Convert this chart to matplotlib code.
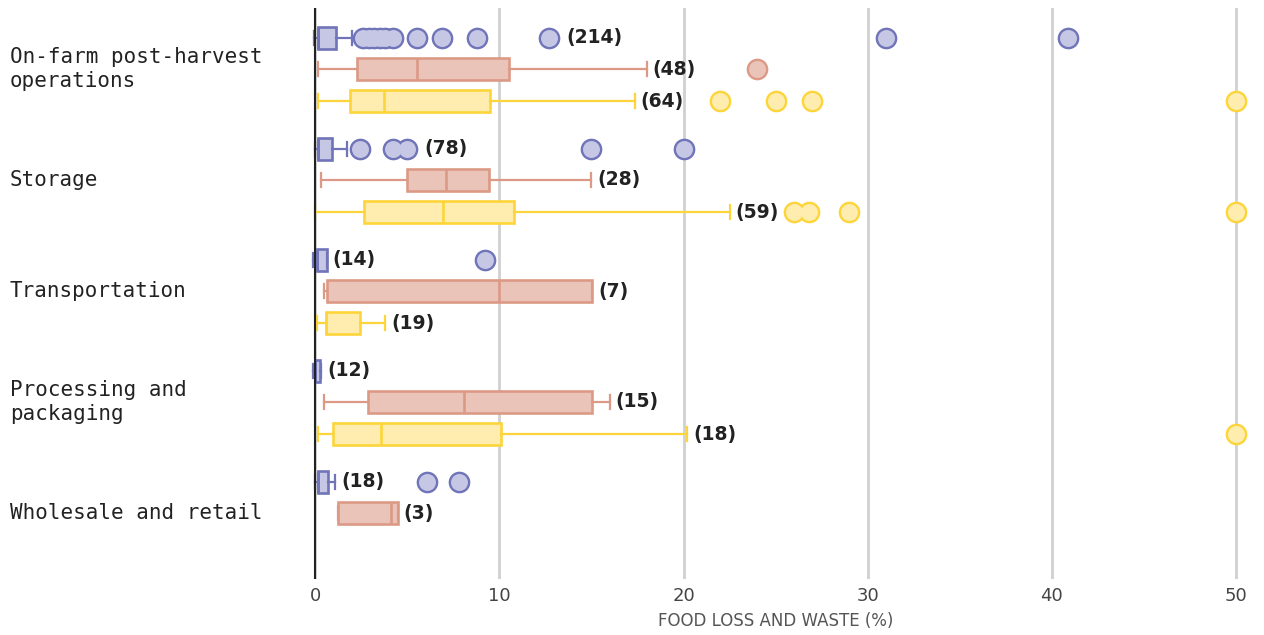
import matplotlib
matplotlib.use("Agg")
import matplotlib.pyplot as plt
from matplotlib.transforms import blended_transform_factory

# ---------------- data ----------------
categories = ["On-farm post-harvest\noperations", "Storage", "Transportation",
              "Processing and\npackaging", "Wholesale and retail"]
x_ticks = [0, 10, 20, 30, 40, 50]
x_label = "FOOD LOSS AND WASTE (%)"

# series 1 (purple)
s1_whislo = [-0.07, 0.0, -0.1, -0.1, 0.0]
s1_q1 = [0.16, 0.16, 0.1, 0.0, 0.16]
s1_med = [0.16, 0.16, 0.1, 0.0, 0.16]
s1_q3 = [1.12, 0.92, 0.62, 0.25, 0.7]
s1_whishi = [1.98, 1.7, 0.62, 0.32, 1.07]
s1_out = [[2.6, 2.9, 3.2, 3.5, 3.8, 4.2, 5.5, 6.9, 8.77, 12.7, 31.0, 40.9],
          [2.43, 4.24, 5.0, 15.0, 20.0],
          [9.22],
          [],
          [6.05, 7.83]]
s1_n = [214, 78, 14, 12, 18]
s1_label_after = [10, 3, 0, 0, 0]   # number of outliers preceding the count label

# series 2 (salmon)
s2_whislo = [0.15, 0.29, 0.49, 0.47, 1.25]
s2_q1 = [2.28, 4.97, 0.62, 2.85, 1.25]
s2_med = [5.51, 7.1, 9.98, 8.05, 4.1]
s2_q3 = [10.54, 9.42, 15.04, 15.04, 4.48]
s2_whishi = [18.0, 14.98, 15.04, 16.0, 4.48]
s2_out = [[24.0], [], [], [], []]
s2_n = [48, 28, 7, 15, 3]
s2_label_after = [0, 0, 0, 0, 0]

# series 3 (yellow) - no data for wholesale and retail
s3_whislo = [0.15, 0.0, 0.1, 0.15]
s3_q1 = [1.89, 2.65, 0.56, 0.98]
s3_med = [3.75, 6.92, 0.56, 3.55]
s3_q3 = [9.49, 10.8, 2.43, 10.1]
s3_whishi = [17.34, 22.5, 3.79, 20.2]
s3_out = [[22.0, 25.0, 27.0, 50.0],
          [26.0, 26.8, 29.0, 50.0],
          [],
          [50.0]]
s3_n = [64, 59, 19, 18]
s3_label_after = [0, 0, 0, 0]

series = [
    dict(whislo=s1_whislo, q1=s1_q1, med=s1_med, q3=s1_q3, whishi=s1_whishi,
         out=s1_out, n=s1_n, after=s1_label_after, offset=-0.28,
         edge="#7074b8", fill="#c6c7e4"),
    dict(whislo=s2_whislo, q1=s2_q1, med=s2_med, q3=s2_q3, whishi=s2_whishi,
         out=s2_out, n=s2_n, after=s2_label_after, offset=0.0,
         edge="#dc9a86", fill="#eac4b9"),
    dict(whislo=s3_whislo, q1=s3_q1, med=s3_med, q3=s3_q3, whishi=s3_whishi,
         out=s3_out, n=s3_n, after=s3_label_after, offset=0.29,
         edge="#fdd53a", fill="#feedae"),
]

# ---------------- figure ----------------
W, H, DPI = 1264, 635, 100
fig = plt.figure(figsize=(W / DPI, H / DPI), dpi=DPI)
ax_left, ax_right, ax_top, ax_bot = 300, 1252, 8, 579
ax = fig.add_axes([ax_left / W, 1 - ax_bot / H, (ax_right - ax_left) / W, (ax_bot - ax_top) / H])

px0, pxs = 315.3, 18.41  # pixel of 0 and pixels per unit
ax.set_xlim((ax_left - px0) / pxs, (ax_right - px0) / pxs)
ax.set_ylim((ax_bot - 69) / 111, (ax_top - 69) / 111)

for sp in ax.spines.values():
    sp.set_visible(False)

ax.set_xticks(x_ticks)
ax.set_xticklabels([str(t) for t in x_ticks])
ax.tick_params(axis="x", length=0, pad=6, labelsize=13, labelcolor="#444444")
ax.set_yticks([])
ax.grid(axis="x", color="#d0d0d0", linewidth=2.0, zorder=0)
ax.set_axisbelow(True)
ax.axvline(0, color="#222222", linewidth=1.5, zorder=6)

ax.set_xlabel(x_label, fontsize=12, color="#555555", labelpad=5)

box_h = 0.2
r_px = 11
for s in series:
    stats, pos = [], []
    for i in range(len(s["q1"])):
        stats.append(dict(whislo=s["whislo"][i], q1=s["q1"][i], med=s["med"][i],
                          q3=s["q3"][i], whishi=s["whishi"][i], fliers=[]))
        pos.append(i + s["offset"])
    ax.bxp(stats, positions=pos, widths=box_h, orientation="horizontal",
           patch_artist=True, showfliers=False, manage_ticks=False,
           capwidths=0.13,
           boxprops=dict(facecolor=s["fill"], edgecolor=s["edge"], linewidth=1.9),
           medianprops=dict(color=s["edge"], linewidth=1.9),
           whiskerprops=dict(color=s["edge"], linewidth=1.6),
           capprops=dict(color=s["edge"], linewidth=1.6),
           zorder=3)
    # outliers: edge pass then fill pass
    for i in range(len(s["q1"])):
        o = s["out"][i]
        if o:
            y = [i + s["offset"]] * len(o)
            ax.plot(o, y, linestyle="none", marker="o", markersize=15.6,
                    markerfacecolor=s["edge"], markeredgecolor=s["edge"],
                    markeredgewidth=0, zorder=4, clip_on=False)
            ax.plot(o, y, linestyle="none", marker="o", markersize=12.2,
                    markerfacecolor=s["fill"], markeredgewidth=0,
                    zorder=4.1, clip_on=False)
    # count labels
    for i in range(len(s["q1"])):
        k = s["after"][i]
        if k > 0:
            anchor = s["out"][i][k - 1]
            off = (r_px + 6) * 72 / DPI
        else:
            anchor = max(s["whishi"][i], s["q3"][i])
            off = 6 * 72 / DPI
        ax.annotate(f"({s['n'][i]})", xy=(anchor, i + s["offset"]),
                    xytext=(off, 0), textcoords="offset points",
                    ha="left", va="center", fontsize=13.5, fontweight="bold",
                    color="#222222", zorder=7)

# category labels
trans = blended_transform_factory(fig.transFigure, ax.transData)
for i, c in enumerate(categories):
    ax.text(10 / W, i, c, transform=trans, ha="left", va="center",
            fontsize=15, family="DejaVu Sans Mono", color="#222222",
            linespacing=1.2)

fig.savefig("out.png", dpi=DPI)
